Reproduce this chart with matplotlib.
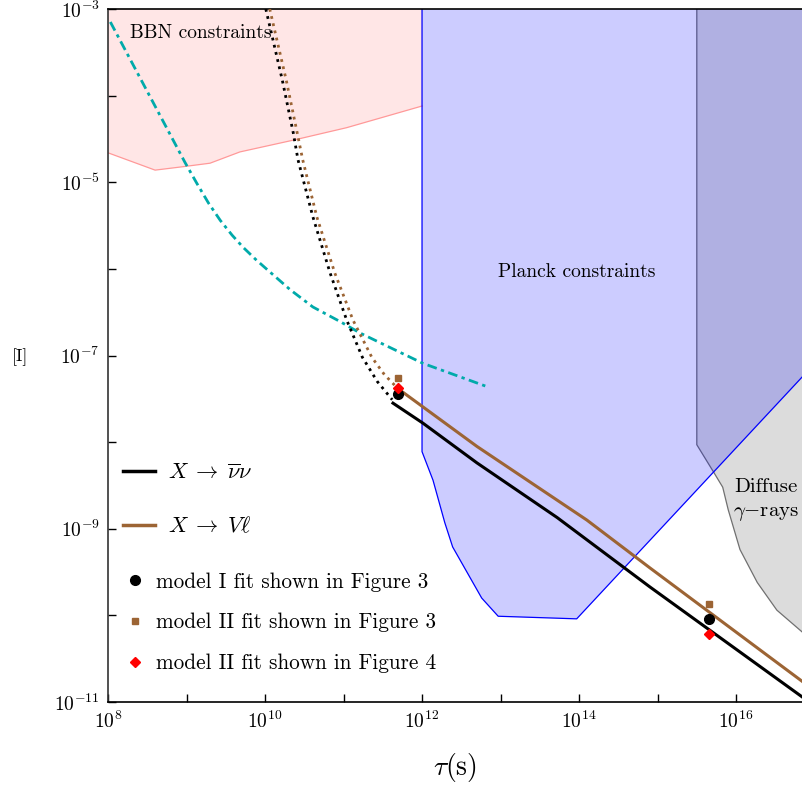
import numpy as np
import matplotlib
matplotlib.use('Agg')
import matplotlib.pyplot as plt
from matplotlib.lines import Line2D

plt.rcParams['font.family'] = 'serif'
plt.rcParams['font.serif'] = ['cmr10', 'DejaVu Serif']
plt.rcParams['mathtext.fontset'] = 'cm'
plt.rcParams['axes.formatter.use_mathtext'] = True
plt.rcParams['axes.unicode_minus'] = False

# --- data (log10 values) ---
bbn_logx = [8.0, 8.60, 8.96, 9.30, 9.68, 10.38, 11.04, 12.0]
bbn_logy = [-4.66, -4.86, -4.82, -4.78, -4.65, -4.51, -4.37, -4.12]

planck_logx = [12.0, 12.0, 12.14, 12.29, 12.39, 12.76, 12.97, 13.97, 16.84]
planck_logy = [-3.0, -8.11, -8.44, -8.93, -9.21, -9.80, -10.01, -10.04, -7.25]

gamma_logx = [15.50, 15.50, 15.71, 15.83, 15.90, 16.05, 16.27, 16.52, 16.84]
gamma_logy = [-3.0, -8.03, -8.34, -8.52, -8.78, -9.24, -9.62, -9.94, -10.19]

cyan_logx = [8.03, 8.98, 9.13, 9.28, 9.43, 9.58, 9.72, 9.88, 10.03, 10.32, 10.61, 10.96, 11.21, 11.46, 12.01, 12.83]
cyan_logy = [-3.15, -4.77, -5.01, -5.24, -5.44, -5.61, -5.75, -5.89, -6.01, -6.24, -6.44, -6.61, -6.74, -6.85, -7.09, -7.36]

nu_dot_logx = [10.01, 10.22, 10.36, 10.42, 10.61, 10.83, 11.04, 11.24, 11.43, 11.62]
nu_dot_logy = [-3.00, -3.82, -4.43, -4.74, -5.40, -6.05, -6.59, -7.02, -7.30, -7.51]
vl_dot_logx = [10.06, 10.27, 10.41, 10.48, 10.66, 10.89, 11.12, 11.36, 11.52, 11.68]
vl_dot_logy = [-3.00, -3.82, -4.43, -4.74, -5.40, -6.05, -6.59, -7.02, -7.22, -7.37]

nu_logx = [11.63, 12.01, 12.70, 13.72, 14.90, 16.84]
nu_logy = [-7.55, -7.78, -8.24, -8.87, -9.67, -10.94]
vl_logx = [11.72, 12.70, 14.10, 14.90, 16.84]
vl_logy = [-7.40, -8.05, -8.90, -9.45, -10.76]

fit_logx = [11.69, 15.66]
m1_fig3_logy = [-7.44, -10.04]
m2_fig3_logy = [-7.26, -9.87]
m2_fig4_logy = [-7.37, -10.21]

xmin, xmax = 1e8, 10**16.84
ymin, ymax = 1e-11, 1e-3

def p(v):
    return 10.0**np.array(v, dtype=float)

brown = '#9c6434'
cyan = '#00aaaa'

fig = plt.figure(figsize=(8.02, 7.87), dpi=100)
ax = fig.add_axes([108/802, 1-702/787, (802-108)/802, (702-9)/787])
ax.set_xscale('log')
ax.set_yscale('log')

# BBN
ax.fill_between(p(bbn_logx), p(bbn_logy), ymax, facecolor='#ffe6e6', edgecolor='none', zorder=1)
ax.plot(p(bbn_logx), p(bbn_logy), color='#ff9999', lw=0.9, zorder=1.5)

# Diffuse gamma rays
gx = list(p(gamma_logx)) + [xmax * 2, xmax * 2]
gy = list(p(gamma_logy)) + [p(gamma_logy)[-1], ymax]
ax.fill(gx, gy, facecolor='#dcdcdc', edgecolor='none', zorder=1)
ax.plot(p(gamma_logx), p(gamma_logy), color='#707070', lw=0.9, zorder=1.6)

# Planck
px = list(p(planck_logx)) + [xmax * 2, xmax * 2]
py = list(p(planck_logy)) + [p(planck_logy)[-1], ymax]
ax.fill(px, py, facecolor=(0, 0, 1, 0.2), edgecolor='none', zorder=2)
ax.plot(p(planck_logx), p(planck_logy), color='blue', lw=0.9, zorder=2.1)

# curves
ax.plot(p(cyan_logx), p(cyan_logy), color=cyan, lw=2, dashes=(3.5, 1.6, 1.2, 1.6), zorder=3)
ax.plot(p(nu_dot_logx), p(nu_dot_logy), color='black', lw=2, ls=':', zorder=3)
ax.plot(p(vl_dot_logx), p(vl_dot_logy), color=brown, lw=2, ls=':', zorder=3)
ax.plot(p(nu_logx), p(nu_logy), color='black', lw=2.2, zorder=4)
ax.plot(p(vl_logx), p(vl_logy), color=brown, lw=2.2, zorder=4)

ax.plot(p(fit_logx), p(m1_fig3_logy), 'o', color='black', ms=7, ls='none', zorder=5)
ax.plot(p(fit_logx), p(m2_fig3_logy), 's', color=brown, ms=5, ls='none', zorder=5)
ax.plot(p(fit_logx), p(m2_fig4_logy), 'D', color='red', ms=5, ls='none', zorder=5)

ax.set_xlim(xmin, xmax)
ax.set_ylim(ymin, ymax)

ax.set_xticks(p([8, 10, 12, 14, 16]))
ax.set_xticks(p([9, 11, 13, 15]), minor=True)
ax.set_yticks(p([-11, -9, -7, -5, -3]))
ax.set_yticks(p([-10, -8, -6, -4]), minor=True)
ax.set_xticklabels([r'$10^{8}$', r'$10^{10}$', r'$10^{12}$', r'$10^{14}$', r'$10^{16}$'])
ax.set_yticklabels([r'$10^{-11}$', r'$10^{-9}$', r'$10^{-7}$', r'$10^{-5}$', r'$10^{-3}$'])
ax.set_xticklabels([], minor=True)
ax.set_yticklabels([], minor=True)
ax.tick_params(which='both', direction='in', length=6, width=1, labelsize=14, top=False, right=False, pad=6)
ax.spines['right'].set_visible(False)
for s in ['left', 'bottom', 'top']:
    ax.spines[s].set_linewidth(1.2)
ax.spines['left'].set_color('#333333')

ax.set_xlabel(r'$\tau(\mathrm{s})$', fontsize=20, labelpad=14)
fig.text(20/802, 1-357/787, '[I]', fontsize=13, ha='center', va='center')

ax.text(p(8.28), p(-3.33), 'BBN constraints', fontsize=14, zorder=6)
ax.text(p(13.97), p(-6.04), 'Planck constraints', fontsize=14, ha='center', va='center', zorder=6)
ax.text(p(16.38), p(-8.52), 'Diffuse', fontsize=15, ha='center', va='center', zorder=6)
ax.text(p(16.38), p(-8.83), r'$\gamma{-}$rays', fontsize=15, ha='center', va='center', zorder=6)

h1 = [Line2D([], [], color='black', lw=2.5), Line2D([], [], color=brown, lw=2.5)]
leg1 = ax.legend(h1, [r'$X \;\rightarrow\; \overline{\nu}\nu$', r'$X \;\rightarrow\; V\ell$'],
                 loc='upper left', bbox_to_anchor=(123/802, 1-463/787), bbox_transform=fig.transFigure,
                 frameon=False, fontsize=16, handlelength=1.44, handletextpad=0.59, labelspacing=1.49,
                 borderpad=0, borderaxespad=0)
ax.add_artist(leg1)
h2 = [Line2D([], [], marker='o', color='black', ls='none', ms=7),
      Line2D([], [], marker='s', color=brown, ls='none', ms=5),
      Line2D([], [], marker='D', color='red', ls='none', ms=5)]
ax.legend(h2, ['model I fit shown in Figure 3', 'model II fit shown in Figure 3', 'model II fit shown in Figure 4'],
          loc='upper left', bbox_to_anchor=(124/802, 1-572/787), bbox_transform=fig.transFigure,
          frameon=False, fontsize=15.3, handlelength=1.0, handletextpad=0.51, labelspacing=1.0,
          borderpad=0, borderaxespad=0)

fig.savefig('out.png', dpi=100)
